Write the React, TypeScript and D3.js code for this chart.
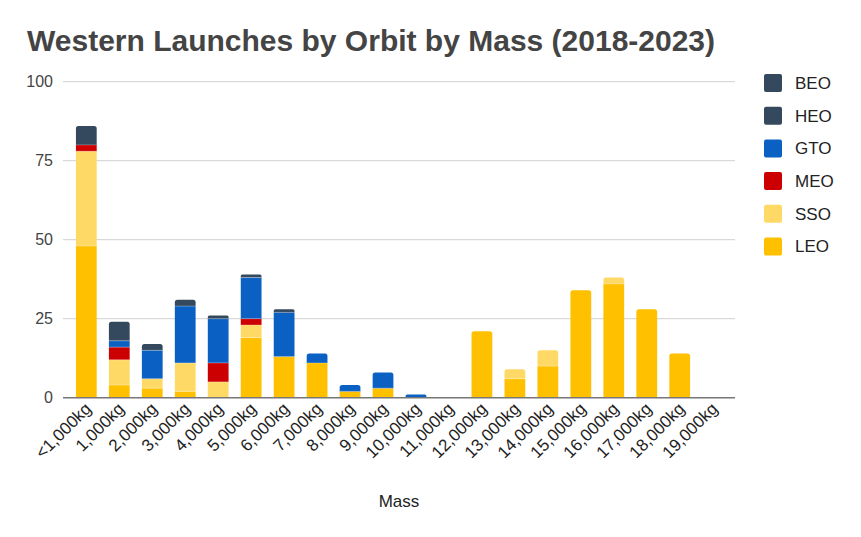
import React from "react";
import * as d3 from "d3";

const categories = ["<1,000kg","1,000kg","2,000kg","3,000kg","4,000kg","5,000kg","6,000kg","7,000kg","8,000kg","9,000kg","10,000kg","11,000kg","12,000kg","13,000kg","14,000kg","15,000kg","16,000kg","17,000kg","18,000kg","19,000kg"];
const LEO = [48,4,3,2,0,19,13,11,2,3,0,0,21,6,10,34,36,28,14,0];
const SSO = [30,8,3,9,5,4,0,0,0,0,0,0,0,3,5,0,2,0,0,0];
const MEO = [2,4,0,0,6,2,0,0,0,0,0,0,0,0,0,0,0,0,0,0];
const GTO = [0,2,9,18,14,13,14,3,2,5,1,0,0,0,0,0,0,0,0,0];
const HEO = [6,6,2,2,1,1,1,0,0,0,0,0,0,0,0,0,0,0,0,0];
const BEO = [0,0,0,0,0,0,0,0,0,0,0,0,0,0,0,0,0,0,0,0];
const yTicks = [0,25,50,75,100];

const seriesNames = ["LEO","SSO","MEO","GTO","HEO","BEO"];
const seriesValues = [LEO,SSO,MEO,GTO,HEO,BEO];
const colors: Record<string,string> = {
  LEO: "#ffc000",
  SSO: "#ffd966",
  MEO: "#cc0000",
  GTO: "#0b61c3",
  HEO: "#34495e",
  BEO: "#34495e",
};
const legendOrder = ["BEO","HEO","GTO","MEO","SSO","LEO"];

const FONT = "'Liberation Sans', Arial, sans-serif";

export default function App() {
  const W = 861, H = 537;
  const left = 63, right = 735, top = 81.7, bottom = 397.7;

  const x = d3.scaleBand<string>().domain(categories).range([70, 729]).paddingInner(0.37).paddingOuter(0.18);
  const y = d3.scaleLinear().domain([0, 100]).range([bottom, top]);

  const rows = categories.map((c, i) => {
    const r: any = { cat: c };
    seriesNames.forEach((s, k) => (r[s] = seriesValues[k][i]));
    return r;
  });
  const stack = d3.stack<any>().keys(seriesNames)(rows);

  // find top segment per category
  const topKey: Record<string,string> = {};
  categories.forEach((c, i) => {
    let tk = "";
    seriesNames.forEach((s, k) => { if (seriesValues[k][i] > 0) tk = s; });
    topKey[c] = tk;
  });

  const bw = x.bandwidth();

  const segs: React.ReactNode[] = [];
  stack.forEach((layer) => {
    const key = layer.key;
    layer.forEach((d, i) => {
      const v0 = d[0], v1 = d[1];
      if (v1 - v0 <= 0) return;
      const cat = categories[i];
      const x0 = x(cat)!;
      const yT = y(v1), yB = y(v0);
      const h = yB - yT;
      if (topKey[cat] === key) {
        const r = Math.min(2.5, h / 2, bw / 2);
        const p = d3.path();
        p.moveTo(x0, yB);
        p.lineTo(x0, yT + r);
        p.quadraticCurveTo(x0, yT, x0 + r, yT);
        p.lineTo(x0 + bw - r, yT);
        p.quadraticCurveTo(x0 + bw, yT, x0 + bw, yT + r);
        p.lineTo(x0 + bw, yB);
        p.closePath();
        segs.push(<path key={key + i} d={p.toString()} fill={colors[key]} />);
      } else {
        segs.push(<rect key={key + i} x={x0} y={yT} width={bw} height={h} fill={colors[key]} />);
      }
      if (v0 > 0) {
        segs.push(<line key={"sep" + key + i} x1={x0} x2={x0 + bw} y1={yB} y2={yB} stroke="#ffffff" strokeOpacity={0.35} strokeWidth={0.8} />);
      }
    });
  });

  return (
    <svg width={W} height={H} style={{ position: "absolute", left: 0, top: 0, background: "#fff" }} fontFamily={FONT}>
      <rect x={0} y={0} width={W} height={H} fill="#fff" />
      <text x={27} y={51} fontSize={30} fontWeight="bold" fill="#444">Western Launches by Orbit by Mass (2018-2023)</text>

      {yTicks.map((t) => (
        <g key={t}>
          {t !== 0 && <line x1={left} x2={right} y1={y(t)} y2={y(t)} stroke="#d9d9d9" strokeWidth={1.3} />}
          <text x={53} y={y(t)} dy="0.36em" textAnchor="end" fontSize={16} fill="#444">{t}</text>
        </g>
      ))}

      {segs}

      <line x1={left} x2={right} y1={bottom} y2={bottom} stroke="#777" strokeWidth={1.6} />

      {categories.map((c) => {
        const cx = x(c)! + bw / 2;
        return (
          <text key={c} transform={`translate(${cx + 6},${bottom + 12}) rotate(-45)`} textAnchor="end" fontSize={17} fill="#222">{c}</text>
        );
      })}

      <text x={(left + right) / 2} y={507} textAnchor="middle" fontSize={17} fill="#222">Mass</text>

      {legendOrder.map((s, i) => {
        const yy = 74 + i * 32.7;
        return (
          <g key={s}>
            <rect x={764} y={yy} width={18} height={18} rx={2} fill={colors[s]} />
            <text x={795} y={yy + 9 + 5.8} fontSize={17} fill="#222">{s}</text>
          </g>
        );
      })}
    </svg>
  );
}
